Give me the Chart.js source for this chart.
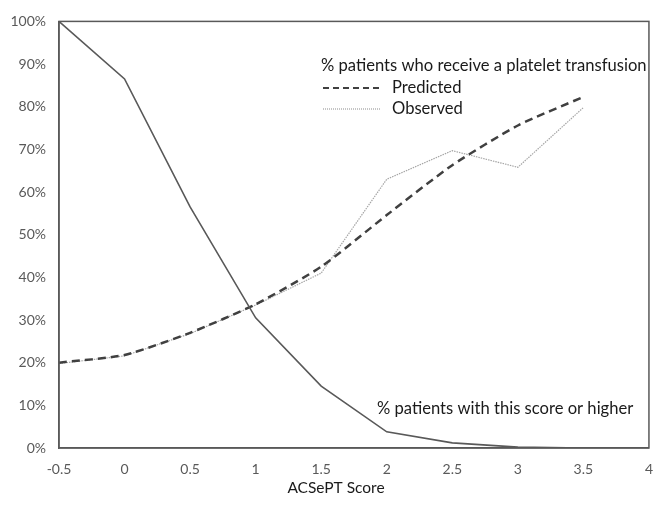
<!DOCTYPE html>
<html>
<head>
<meta charset="utf-8">
<script src="https://cdn.jsdelivr.net/npm/chart.js@4.4.0/dist/chart.umd.min.js"></script>
<style>
  html, body { margin: 0; padding: 0; background: #fff; }
  #wrap { width: 666px; height: 505px; }
</style>
</head>
<body>
<div id="wrap"><canvas id="mainChart"></canvas></div>
<script>
// ACSePT スコアごとの値
const scores = [-0.5, 0, 0.5, 1, 1.5, 2, 2.5, 3, 3.5];
const cumulative = [100, 86.5, 56.5, 30.5, 14.5, 3.8, 1.2, 0.2, 0];
const predicted = [20, 21.8, 27, 33.7, 42.5, 54.6, 66.3, 75.6, 82.3];
const observed = [19.8, 21.6, 26.8, 33.5, 41, 63, 69.7, 65.8, 79.8];

const legendTitle = '% patients who receive a platelet transfusion';
const legendNames = ['Predicted', 'Observed'];
const cumulativeLabel = '% patients with this score or higher';
const xTitle = 'ACSePT Score';

const FONT = 'Lato, "Open Sans", sans-serif';
const axisColor = '#595959';

function toXY(ys) {
    return scores.map((x, i) => ({x: x, y: ys[i]}));
}

// 枠線と注記テキスト
const decorations = {
    id: 'decorations',
    afterDraw(chart) {
        const ctx = chart.ctx;
        const a = chart.chartArea;
        ctx.save();
        ctx.strokeStyle = axisColor;
        ctx.lineWidth = 1.5;
        ctx.strokeRect(a.left, a.top, a.right - a.left, a.bottom - a.top);

        ctx.fillStyle = '#1a1a1a';
        ctx.font = '16.6px ' + FONT;
        ctx.textBaseline = 'middle';
        ctx.textAlign = 'left';
        ctx.fillText(legendTitle, 321, 66);
        ctx.fillText(legendNames[0], 392, 88);
        ctx.fillText(legendNames[1], 392, 109);
        ctx.fillText(cumulativeLabel, 377, 409);

        // 軸タイトル
        ctx.font = '15.5px ' + FONT;
        ctx.textAlign = 'center';
        ctx.fillText(xTitle, 336, 488);

        // 凡例の線見本
        ctx.strokeStyle = '#404040';
        ctx.lineWidth = 2;
        ctx.setLineDash([6, 4]);
        ctx.beginPath(); ctx.moveTo(323, 88); ctx.lineTo(380, 88); ctx.stroke();
        ctx.strokeStyle = '#8c8c8c';
        ctx.lineWidth = 1;
        ctx.setLineDash([1, 1]);
        ctx.beginPath(); ctx.moveTo(323, 109); ctx.lineTo(380, 109); ctx.stroke();
        ctx.restore();
    }
};

const chrt = document.getElementById('mainChart').getContext('2d');
const mainChart = new Chart(chrt, {
    type: 'line',
    data: {
        datasets: [{
            label: cumulativeLabel,
            data: toXY(cumulative),
            borderColor: '#595959',
            borderWidth: 1.6,
            pointRadius: 0,
            tension: 0,
        }, {
            label: legendNames[0],
            data: toXY(predicted),
            borderColor: '#404040',
            borderWidth: 2.5,
            borderDash: [8, 5],
            pointRadius: 0,
            tension: 0.2,
        }, {
            label: legendNames[1],
            data: toXY(observed),
            borderColor: '#a6a6a6',
            borderWidth: 1.2,
            borderDash: [1.5, 1],
            pointRadius: 0,
            tension: 0,
        }],
    },
    options: {
        responsive: true,
        maintainAspectRatio: false,
        animation: false,
        layout: {
            padding: {top: 18, right: 3, left: 0, bottom: 0}
        },
        plugins: {
            legend: {display: false},
            tooltip: {enabled: false}
        },
        scales: {
            x: {
                type: 'linear',
                min: -0.5,
                max: 4,
                grid: {display: false, drawTicks: false},
                border: {display: true, color: axisColor, width: 1.5},
                ticks: {
                    stepSize: 0.5,
                    padding: 13,
                    color: axisColor,
                    font: {family: FONT, size: 14},
                    callback: function(value) { return String(value); }
                },
                afterFit(scale) { scale.height = 57; }
            },
            y: {
                min: 0,
                max: 100,
                grid: {display: false, drawTicks: false},
                border: {display: true, color: axisColor, width: 1.5},
                ticks: {
                    stepSize: 10,
                    padding: 13,
                    color: axisColor,
                    font: {family: FONT, size: 14},
                    callback: function(value) { return value + '%'; }
                },
                afterFit(scale) { scale.width = 59; }
            }
        }
    },
    plugins: [decorations]
});
</script>
</body>
</html>
